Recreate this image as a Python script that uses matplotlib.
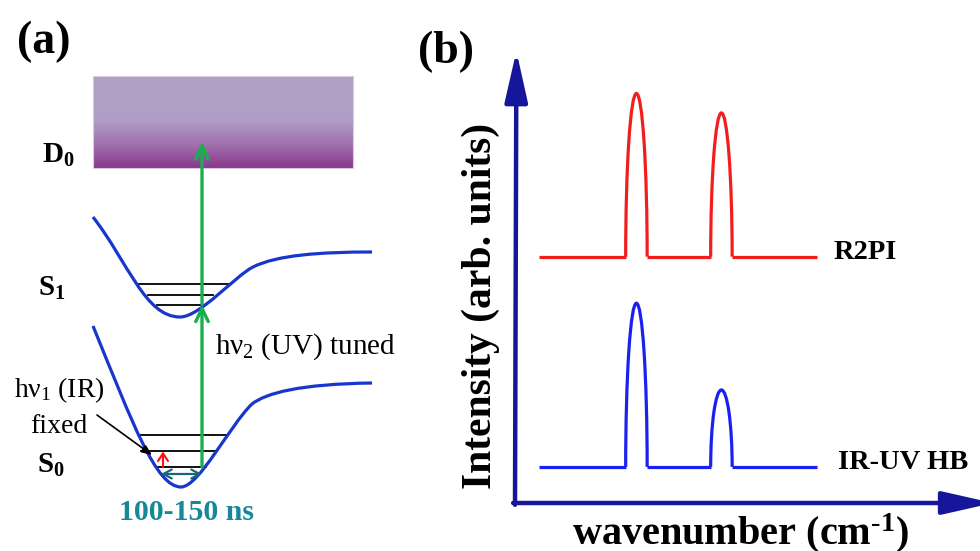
import numpy as np
import matplotlib
matplotlib.use('Agg')
import matplotlib.pyplot as plt
from matplotlib.path import Path
from matplotlib.patches import PathPatch, Arc, Rectangle
from matplotlib.colors import LinearSegmentedColormap

plt.rcParams['font.family'] = 'Liberation Serif'
plt.rcParams['mathtext.fontset'] = 'custom'
plt.rcParams['mathtext.rm'] = 'Liberation Serif'
plt.rcParams['mathtext.it'] = 'Liberation Serif'
plt.rcParams['mathtext.bf'] = 'Liberation Serif:bold'

## (a) energy level scheme, drawing units (x to the right, y downwards)
d0_box = [93, 76, 353, 168]   # left, top, right, bottom
# potential curves as cubic bezier control points
s1_curve = [(93, 217), (128, 262), (145, 317), (180, 317),
            (200, 317), (235, 276), (253, 267),
            (277, 255), (320, 252), (372, 252)]
s0_curve = [(93, 326), (133, 424), (156, 487), (181, 487),
            (199, 487), (230, 425), (252, 404),
            (266, 393), (300, 384), (372, 383)]
s1_levels = [283.5, 294.5, 304.5]
s1_level_x = [(137, 228), (148, 213), (157, 206)]
s0_levels = [435, 450.5, 467]
s0_level_x = [(138, 228), (141, 215), (156, 206)]
uv_x = 202
ir_x = 163

## (b) spectra, arbitrary units
scan_range = [5.1, 64.7]
peak_pos = [26.0, 44.2]
peak_width = [4.6, 4.6]
r2pi_base = 54.5
r2pi_height = [36.1, 31.8]
hb_base = 8.0
hb_height = [36.2, 17.0]

curve_blue = '#1836cc'
uv_green = '#17b04f'
axis_blue = '#16169a'

fig = plt.figure(figsize=(9.8, 5.51), dpi=100)
ax = fig.add_axes([0, 0, 1, 1])
ax.set_xlim(0, 980)
ax.set_ylim(551, 0)
ax.axis('off')

# D0 continuum with a vertical colour gradient
cmap = LinearSegmentedColormap.from_list('d0', [(0, '#b09fc5'), (0.47, '#b09fc5'),
                                                (0.75, '#a070ad'), (1, '#8a388c')])
grad = np.linspace(0, 1, 200).reshape(-1, 1)
ax.imshow(grad, cmap=cmap, aspect='auto', origin='upper',
          extent=(d0_box[0], d0_box[2], d0_box[3], d0_box[1]), zorder=1)
ax.add_patch(Rectangle((d0_box[0], d0_box[1]), d0_box[2] - d0_box[0], d0_box[3] - d0_box[1],
                       fill=False, ec='#d8cce2', lw=0.8, zorder=2))
ax.set_xlim(0, 980)
ax.set_ylim(551, 0)

codes = [Path.MOVETO] + [Path.CURVE4] * 9
for pts in (s1_curve, s0_curve):
    ax.add_patch(PathPatch(Path(pts, codes), fc='none', ec=curve_blue, lw=2.3, zorder=3))

for levels, xr in ((s1_levels, s1_level_x), (s0_levels, s0_level_x)):
    for y, (x0, x1) in zip(levels, xr):
        ax.plot([x0, x1], [y, y], color='black', lw=1.3, zorder=2)

# UV photons: S0 -> S1 -> D0
green_arrow = dict(arrowstyle='->,head_length=0.95,head_width=0.45', color=uv_green,
                   lw=2.4, shrinkA=0, shrinkB=0, mutation_scale=10)
ax.annotate('', xy=(uv_x, s1_levels[2]), xytext=(uv_x, s0_levels[2]), arrowprops=green_arrow, zorder=4)
ax.annotate('', xy=(uv_x, 142), xytext=(uv_x, s1_levels[2]), arrowprops=green_arrow, zorder=4)

# IR photon
ax.annotate('', xy=(ir_x, s0_levels[1] + 1), xytext=(ir_x, s0_levels[2]),
            arrowprops=dict(arrowstyle='->,head_length=0.55,head_width=0.36', color='#ff1010',
                            lw=1.5, shrinkA=0, shrinkB=0, mutation_scale=10), zorder=4)
# delay between the pulses
ax.annotate('', xy=(uv_x, 474), xytext=(161, 474),
            arrowprops=dict(arrowstyle='<->,head_length=0.6,head_width=0.32', color='#1b6676',
                            lw=1.6, shrinkA=0, shrinkB=0, mutation_scale=10), zorder=4)
ax.annotate('', xy=(152, 455), xytext=(97, 415),
            arrowprops=dict(arrowstyle='-|>,head_length=0.6,head_width=0.25', color='black',
                            lw=1.2, shrinkA=0, shrinkB=0, mutation_scale=10), zorder=4)

ax.text(44, 53, '(a)', fontsize=33, fontweight='bold', ha='center', va='baseline')
ax.text(42, 163, r'$\mathbf{D_0}$', fontsize=21, ha='left', va='baseline')
ax.text(38, 296, r'$\mathbf{S_1}$', fontsize=21, ha='left', va='baseline')
ax.text(37, 473, r'$\mathbf{S_0}$', fontsize=21, ha='left', va='baseline')
ax.text(215, 354, r'h$\nu_2$ (UV) tuned', fontsize=21, ha='left', va='baseline')
ax.text(59, 397, r'h$\nu_1$ (IR)', fontsize=20, ha='center', va='baseline')
ax.text(59, 433, 'fixed', fontsize=20, ha='center', va='baseline')
ax.text(186, 520, '100-150 ns', fontsize=21.5, fontweight='bold', color='#178899',
        ha='center', va='baseline')

# (b) schematic spectra
ax.text(446, 63, '(b)', fontsize=33, fontweight='bold', ha='center', va='baseline')
ax.text(481, 306, 'Intensity (arb. units)', fontsize=30, fontweight='bold',
        rotation=90, ha='center', va='center')
ax.text(740, 544, r'wavenumber (cm$^{\mathbf{\text{-}1}}$)', fontsize=29, fontweight='bold',
        ha='center', va='baseline')
ax.text(834, 259, 'R2PI', fontsize=20.5, fontweight='bold', ha='left', va='baseline')
ax.text(838, 469, 'IR-UV HB', fontsize=20.5, fontweight='bold', ha='left', va='baseline')

ax_b = fig.add_axes([515 / 980, 48 / 551, 467 / 980, 452 / 551])
ax_b.set_xlim(0, 100)
ax_b.set_ylim(0, 100)
ax_b.axis('off')
ax_b.patch.set_alpha(0)

axis_arrow = dict(arrowstyle='-|>,head_length=3.1,head_width=0.7', color=axis_blue,
                  lw=3.2, shrinkA=0, shrinkB=0, mutation_scale=10)
ax_b.annotate('', xy=(0.003, 1.0), xytext=(0, -0.004), xycoords='axes fraction',
              arrowprops=axis_arrow, annotation_clip=False)
ax_b.annotate('', xy=(1.024, 0), xytext=(-0.004, 0), xycoords='axes fraction',
              arrowprops=axis_arrow, annotation_clip=False)

for base, heights, col in ((r2pi_base, r2pi_height, '#f21e1e'), (hb_base, hb_height, '#1a20f0')):
    edges = [scan_range[0]]
    for c, w in zip(peak_pos, peak_width):
        edges += [c - w / 2, c + w / 2]
    edges.append(scan_range[1])
    for i in range(0, len(edges), 2):
        ax_b.plot([edges[i], edges[i + 1]], [base, base], color=col, lw=2.3,
                  solid_capstyle='butt')
    for c, w, h in zip(peak_pos, peak_width, heights):
        ax_b.add_patch(Arc((c, base), w, 2 * h, theta1=0, theta2=180, color=col, lw=2.3))

fig.savefig('out.png', dpi=100)
